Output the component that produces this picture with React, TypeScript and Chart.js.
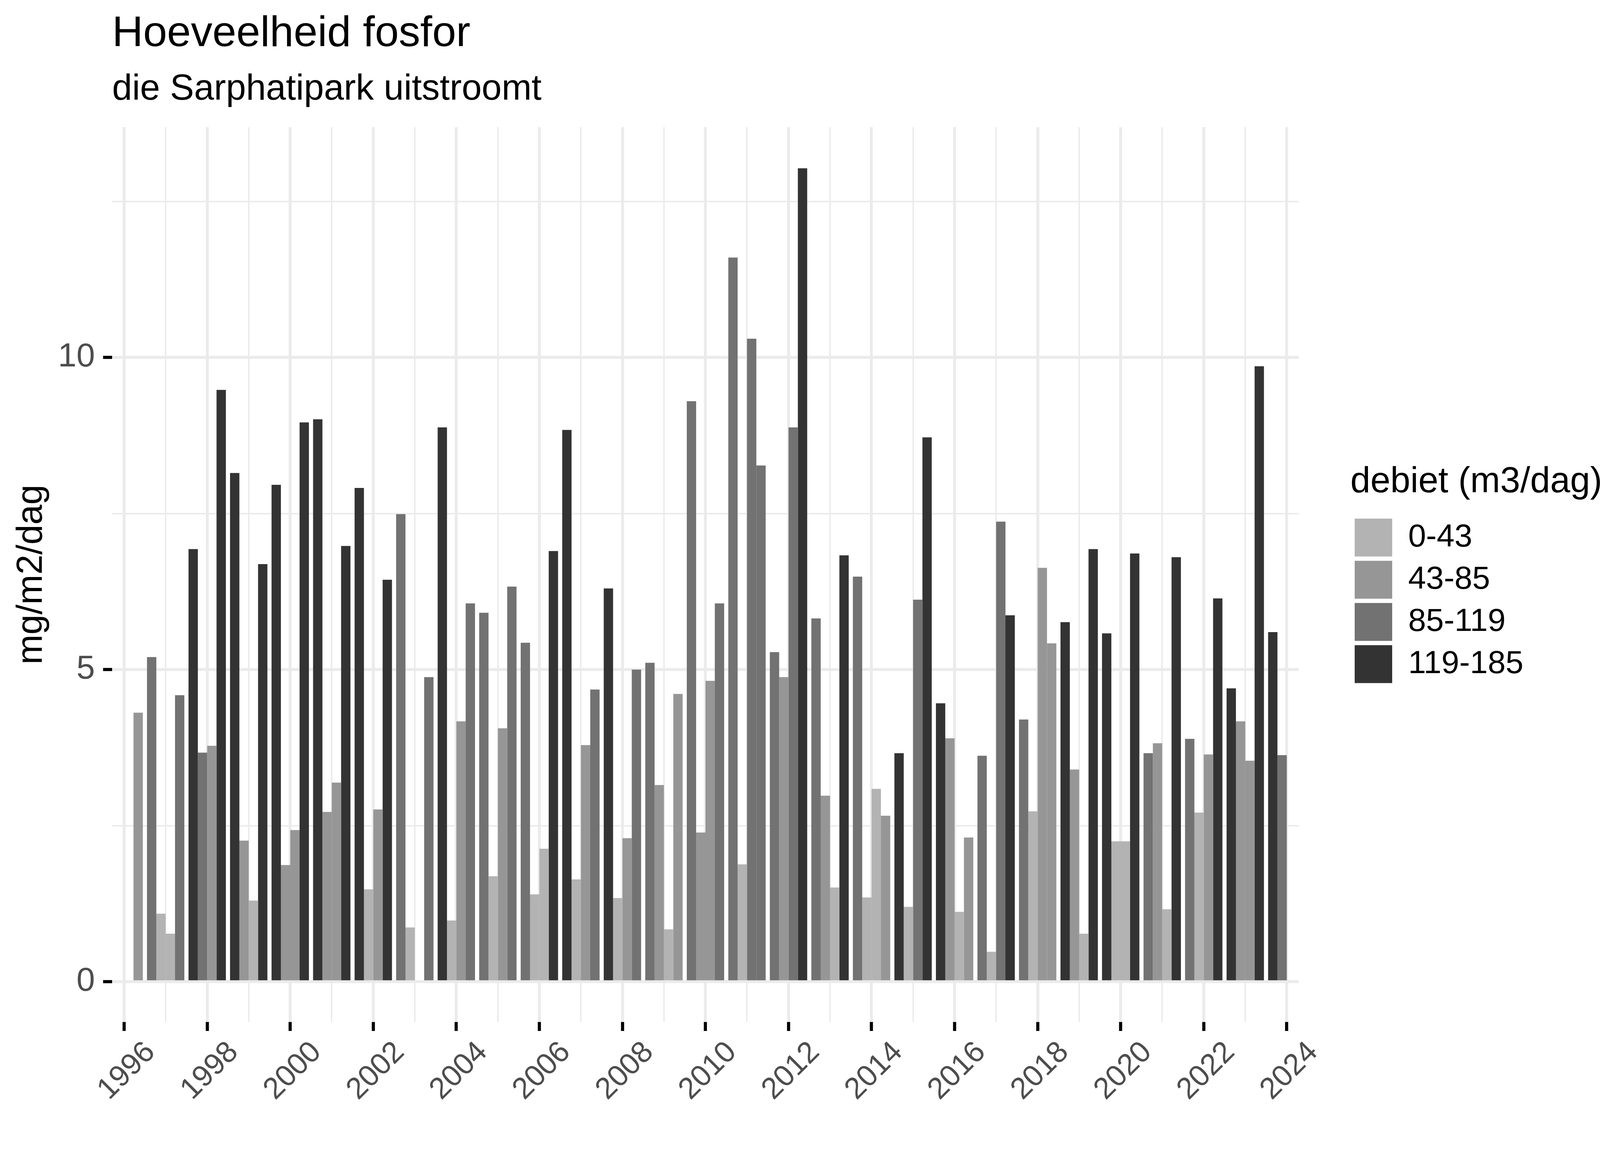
import { useEffect, useRef } from "react";
import { Chart, registerables } from "chart.js";

Chart.register(...registerables);

const FONT = '"Liberation Sans", Arial, sans-serif';

// one group of four quarterly bars per year
const years = [
  1996, 1997, 1998, 1999, 2000, 2001, 2002, 2003, 2004, 2005, 2006, 2007, 2008, 2009, 2010,
  2011, 2012, 2013, 2014, 2015, 2016, 2017, 2018, 2019, 2020, 2021, 2022, 2023, 2024,
];

// mg/m2/dag per quarter
const q1 = [null, 5.2, 6.93, 8.15, 7.96, 9.01, 7.91, 7.49, 8.88, 5.91, 5.43, 8.84, 6.3, 5.11, 9.3,
  11.6, 5.28, 5.82, 6.49, 3.66, 4.46, 3.62, 4.2, 5.76, 5.58, 3.66, 3.89, 4.7, 5.6];
const q2 = [null, 1.09, 3.67, 2.26, 1.87, 2.72, 1.48, 0.87, 0.98, 1.69, 1.4, 1.64, 1.34, 3.15, 2.39,
  1.88, 4.88, 2.98, 1.35, 1.2, 3.9, 0.48, 2.73, 3.4, 2.25, 3.82, 2.71, 4.17, 3.63];
const q3 = [null, 0.77, 3.78, 1.3, 2.43, 3.19, 2.76, null, 4.17, 4.06, 2.13, 3.79, 2.3, 0.84, 4.82,
  10.3, 8.88, 1.51, 3.09, 6.12, 1.12, 7.37, 6.63, 0.77, 2.25, 1.16, 3.64, 3.54, null];
const q4 = [4.31, 4.59, 9.48, 6.69, 8.96, 6.98, 6.44, 4.88, 6.06, 6.33, 6.9, 4.68, 5.0, 4.61, 6.06,
  8.27, 13.03, 6.83, 2.66, 8.72, 2.31, 5.87, 5.42, 6.93, 6.86, 6.8, 6.14, 9.86, null];

// debiet class of each bar (index into classLabels)
const q1Class = [null, 2, 3, 3, 3, 3, 3, 2, 3, 2, 2, 3, 3, 2, 2, 2, 2, 2, 2, 3, 3, 2, 2, 3, 3, 2, 2, 3, 3];
const q2Class = [null, 0, 2, 1, 1, 1, 0, 0, 0, 0, 0, 0, 0, 1, 1, 0, 1, 1, 0, 0, 1, 0, 0, 1, 0, 1, 0, 1, 2];
const q3Class = [null, 0, 1, 0, 1, 1, 1, null, 1, 1, 0, 1, 1, 0, 1, 2, 2, 0, 0, 2, 0, 2, 1, 0, 0, 0, 1, 1, null];
const q4Class = [1, 2, 3, 3, 3, 3, 3, 2, 2, 2, 3, 2, 2, 1, 2, 2, 3, 3, 1, 3, 1, 3, 1, 3, 3, 3, 3, 3, null];

const classLabels = ["0-43", "43-85", "85-119", "119-185"];
const classColors = ["#B3B3B3", "#969696", "#727272", "#333333"];

const yTicks = [0, 2.5, 5, 7.5, 10, 12.5];
const yTickLabels = ["0", "", "5", "", "10", ""];
const xTickYears = [1996, 1998, 2000, 2002, 2004, 2006, 2008, 2010, 2012, 2014, 2016, 2018, 2020, 2022, 2024];

const quarters = [
  { label: "Q1", values: q1, classes: q1Class },
  { label: "Q2", values: q2, classes: q2Class },
  { label: "Q3", values: q3, classes: q3Class },
  { label: "Q4", values: q4, classes: q4Class },
];

// x labels are drawn centred under the tick, rotated 45 degrees like ggplot
const xLabelPlugin = {
  id: "xLabels",
  afterDraw(chart: Chart) {
    const { ctx, chartArea } = chart;
    const x = chart.scales.x;
    ctx.save();
    ctx.fillStyle = "#4D4D4D";
    ctx.font = `77px ${FONT}`;
    ctx.textAlign = "center";
    ctx.textBaseline = "middle";
    xTickYears.forEach((year) => {
      const px = x.getPixelForValue(year);
      ctx.save();
      ctx.translate(px + 7, chartArea.bottom + 126);
      ctx.rotate(-Math.PI / 4);
      ctx.fillText(String(year), 0, 0);
      ctx.restore();
    });
    ctx.restore();
  },
};

// the legend box is clipped, so give it room for its (wide) title
const legendWidthPlugin = {
  id: "legendWidth",
  beforeLayout(chart: any) {
    const lg = chart.legend;
    if (lg && !lg.__fixedWidth) {
      const fit = lg.fit.bind(lg);
      lg.fit = () => {
        fit();
        lg.width = 660;
      };
      lg.__fixedWidth = true;
    }
  },
};

const isMajorYear = (v: number) => xTickYears.includes(v);
const isMajorY = (v: number) => yTickLabels[yTicks.indexOf(v)] !== "";

const App = () => {
  const chartRef = useRef<HTMLCanvasElement>(null);
  const chartInstance = useRef<Chart | null>(null);

  useEffect(() => {
    if (!chartRef.current) return;
    if (chartInstance.current) chartInstance.current.destroy();

    chartInstance.current = new Chart(chartRef.current, {
      type: "bar",
      data: {
        datasets: quarters.map((q) => ({
          label: q.label,
          data: years.map((year, i) => ({ x: year, y: q.values[i] })),
          backgroundColor: q.classes.map((c) => (c === null ? "rgba(0,0,0,0)" : classColors[c])),
          borderWidth: 0,
          categoryPercentage: 0.9,
          barPercentage: 1.0,
        })),
      },
      plugins: [xLabelPlugin, legendWidthPlugin],
      options: {
        animation: false,
        responsive: true,
        maintainAspectRatio: false,
        devicePixelRatio: 1,
        events: [],
        layout: { padding: { top: 0, right: 83, bottom: 0, left: 0 } },
        scales: {
          x: {
            type: "linear",
            min: 1995.71,
            max: 2024.29,
            offset: false,
            afterBuildTicks: (s: any) => {
              s.ticks = years.map((v) => ({ value: v }));
            },
            afterFit: (s: any) => {
              s.height = 384;
            },
            grid: {
              offset: false,
              color: "#EBEBEB",
              lineWidth: (c: any) => (c.tick && isMajorYear(c.tick.value) ? 7.5 : 3.75),
              drawTicks: true,
              tickLength: 23,
              tickWidth: 8,
              tickColor: (c: any) => (c.tick && isMajorYear(c.tick.value) ? "#000000" : "rgba(0,0,0,0)"),
            },
            border: { display: false },
            ticks: { display: false },
          },
          y: {
            type: "linear",
            min: -0.645,
            max: 13.69,
            beginAtZero: false,
            afterBuildTicks: (s: any) => {
              s.ticks = yTicks.map((v) => ({ value: v }));
            },
            afterFit: (s: any) => {
              s.width = 287;
            },
            grid: {
              color: "#EBEBEB",
              lineWidth: (c: any) => (c.tick && isMajorY(c.tick.value) ? 7.5 : 3.75),
              drawTicks: true,
              tickLength: 23,
              tickWidth: 8,
              tickColor: (c: any) => (c.tick && isMajorY(c.tick.value) ? "#000000" : "rgba(0,0,0,0)"),
            },
            border: { display: false },
            ticks: {
              padding: 21,
              color: "#4D4D4D",
              font: { size: 85, family: FONT },
              autoSkip: false,
              callback: (v: any) => yTickLabels[yTicks.indexOf(Number(v))] ?? "",
            },
            title: {
              display: true,
              text: "mg/m2/dag",
              color: "#000000",
              font: { size: 92, family: FONT, lineHeight: 1.2 },
              padding: { top: 26, bottom: 0 },
            },
          },
          // empty spacer between the panel and the legend
          spacer: {
            type: "linear",
            position: "right",
            display: true,
            grid: { display: false, drawTicks: false },
            border: { display: false },
            ticks: { display: false },
            afterFit: (s: any) => {
              s.width = 132;
            },
          },
        },
        plugins: {
          title: {
            display: true,
            text: "Hoeveelheid fosfor",
            align: "start",
            fullSize: false,
            color: "#000000",
            font: { size: 110, weight: "normal", family: FONT, lineHeight: 1.2 },
            padding: { top: 22, bottom: 0 },
          },
          subtitle: {
            display: true,
            text: "die Sarphatipark uitstroomt",
            align: "start",
            fullSize: false,
            color: "#000000",
            font: { size: 92, weight: "normal", family: FONT, lineHeight: 1.2 },
            padding: { top: 20, bottom: 41 },
          },
          legend: {
            display: true,
            position: "right",
            align: "start",
            title: {
              display: true,
              text: "debiet (m3/dag)",
              position: "start",
              color: "#000000",
              font: { size: 92, family: FONT, lineHeight: 1.2 },
              padding: { top: 1189, bottom: 17 },
            },
            labels: {
              boxWidth: 96,
              boxHeight: 97,
              padding: 11,
              color: "#000000",
              font: { size: 82, family: FONT },
              generateLabels: () =>
                classLabels.map((text, i) => ({
                  text,
                  fillStyle: classColors[i],
                  strokeStyle: classColors[i],
                  lineWidth: 0,
                  hidden: false,
                  index: i,
                })),
            },
          },
          tooltip: { enabled: false },
        },
      } as any,
    });

    return () => {
      if (chartInstance.current) {
        chartInstance.current.destroy();
        chartInstance.current = null;
      }
    };
  }, []);

  return (
    <div style={{ position: "absolute", left: 0, top: 0, width: 4200, height: 3000, background: "#ffffff" }}>
      <canvas ref={chartRef} />
    </div>
  );
};

export default App;
